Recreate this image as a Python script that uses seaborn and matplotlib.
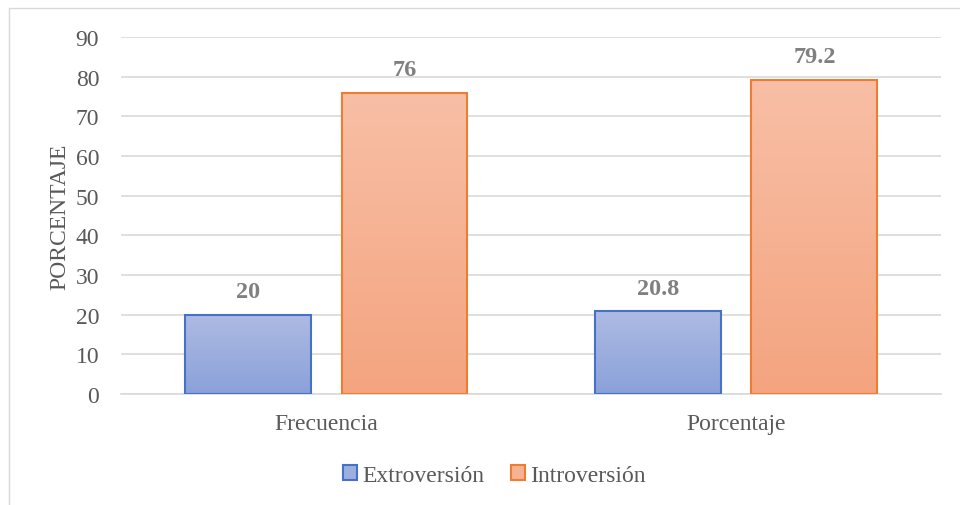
import numpy as np
import pandas as pd
import matplotlib
matplotlib.use("Agg")
import matplotlib.pyplot as plt
import matplotlib.colors as mcolors
from matplotlib.patches import Patch
from matplotlib.lines import Line2D
import seaborn as sns

# data
groups = ["Frecuencia", "Porcentaje"]
series = ["Extroversión", "Introversión"]
extroversion = [20, 20.8]
introversion = [76, 79.2]
y_ticks = [0, 10, 20, 30, 40, 50, 60, 70, 80, 90]

# Excel-like styling
EDGE = {"Extroversión": "#4472c4", "Introversión": "#ed7d31"}
GRAD = {"Extroversión": ("#aebbe3", "#8aa1d9"),
        "Introversión": ("#f8bfa6", "#f4a47f")}
MID = {"Extroversión": "#9cafde", "Introversión": "#f6b293"}
TEXT_GRAY = "#595959"
LABEL_GRAY = "#808080"
GRID_GRAY = "#d9d9d9"

sns.set_theme(style="whitegrid")
plt.rcParams["font.family"] = ["Liberation Serif", "DejaVu Serif"]

df = pd.DataFrame({
    "grupo": groups * 2,
    "serie": [series[0]] * len(groups) + [series[1]] * len(groups),
    "valor": extroversion + introversion,
})

fig = plt.figure(figsize=(9.6, 5.06), dpi=100)
ax = fig.add_axes([0.1265, 0.2194, 0.854, 0.7055])

sns.barplot(data=df, x="grupo", y="valor", hue="serie", hue_order=series,
            palette=MID, width=0.762, gap=0.194, ax=ax, legend=False,
            linewidth=1.5)

# gradient fill inside each bar, keep the outline
for cont, name in zip(ax.containers, series):
    top, bottom = GRAD[name]
    cmap = mcolors.LinearSegmentedColormap.from_list(name, [bottom, top])
    for bar in cont:
        bar.set_edgecolor(EDGE[name])
        bar.set_facecolor("none")
        bar.set_zorder(3)
        x0, y0 = bar.get_x(), bar.get_y()
        w, h = bar.get_width(), bar.get_height()
        grad = np.linspace(0, 1, 256).reshape(-1, 1)
        img = ax.imshow(grad, cmap=cmap, origin="lower", aspect="auto",
                        extent=[x0, x0 + w, y0, y0 + h], zorder=2.5)
        img.set_clip_path(bar)
    ax.bar_label(cont, fmt="%g", padding=9, fontsize=17.5, fontweight="bold",
                 color=LABEL_GRAY)

ax.set_xlim(-0.5, 1.5)
ax.set_ylim(0, 90)
ax.set_yticks(y_ticks)
ax.set_axisbelow(True)
ax.grid(axis="y", color=GRID_GRAY, linewidth=1.2)
ax.grid(axis="x", visible=False)
for side in ["top", "right", "left"]:
    ax.spines[side].set_visible(False)
ax.spines["bottom"].set_color(GRID_GRAY)
ax.spines["bottom"].set_linewidth(1.2)
ax.tick_params(axis="both", length=0, labelsize=17, colors=TEXT_GRAY)
ax.tick_params(axis="y", pad=16)
ax.tick_params(axis="x", pad=14)
ax.set_xlabel("")
ax.set_ylabel("PORCENTAJE", fontsize=17, color=TEXT_GRAY, labelpad=4)

handles = [Patch(facecolor=MID[s], edgecolor=EDGE[s], linewidth=1.5, label=s)
           for s in series]
fig.legend(handles=handles, loc="center", bbox_to_anchor=(0.515, 0.058), ncol=2,
           frameon=False, fontsize=17, labelcolor=TEXT_GRAY,
           handlelength=0.6, handleheight=0.6, handletextpad=0.2,
           columnspacing=1.15)

# chart-area border (top and left edges visible in the original)
fig.add_artist(Line2D([9 / 960, 1], [1 - 9 / 506, 1 - 9 / 506],
                      transform=fig.transFigure, color=GRID_GRAY, linewidth=1))
fig.add_artist(Line2D([9 / 960, 9 / 960], [0, 1 - 9 / 506],
                      transform=fig.transFigure, color=GRID_GRAY, linewidth=1))

fig.savefig("out.png", dpi=100, facecolor="white")
